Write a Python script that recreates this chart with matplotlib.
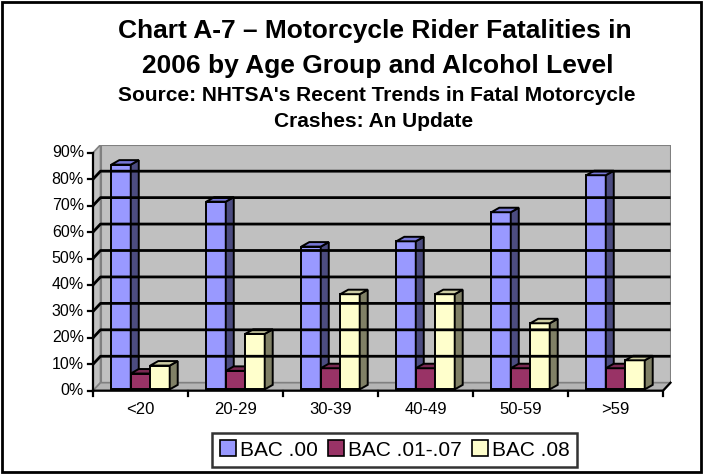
import numpy as np
import matplotlib
matplotlib.use("Agg")
import matplotlib.pyplot as plt
from matplotlib.patches import Polygon, Rectangle, Patch

plt.rcParams["font.family"] = ["Liberation Sans", "DejaVu Sans"]

# data
age_groups = ["<20", "20-29", "30-39", "40-49", "50-59", ">59"]
series_names = ["BAC .00", "BAC .01-.07", "BAC .08"]
bac_00 = [85, 71, 54, 56, 67, 81]
bac_01_07 = [6, 7, 8, 8, 8, 8]
bac_08 = [9, 21, 36, 36, 25, 11]
y_ticks = [0, 10, 20, 30, 40, 50, 60, 70, 80, 90]

# (front, side, top) shades for each series
shades = [
    ("#9999FF", "#4C4C80", "#7777D6"),
    ("#993366", "#4D1A33", "#7A2952"),
    ("#FFFFCC", "#808066", "#CCCCA3"),
]

W, H = 704, 475
fig = plt.figure(figsize=(W / 100, H / 100), dpi=100)

# pixel layout of the 3d box
px_left, px_zero = 93, 390.7
ppu_x = 95.0       # pixels per category
ppu_y = 2.644      # pixels per percent
wall_dx = 7.5 / ppu_x
wall_dy = 8.0 / ppu_y
bar_dx = 8.0 / ppu_x
bar_dy = 4.5 / ppu_y
bar_base = 0.5
bar_w = 0.205

n = len(age_groups)
xlim = (-0.5, n - 0.5 + wall_dx)
ylim = (0, 90 + wall_dy)
ax = fig.add_axes([px_left / W, (H - px_zero) / H,
                   (xlim[1] - xlim[0]) * ppu_x / W, (ylim[1] - ylim[0]) * ppu_y / H])
ax.set_xlim(*xlim)
ax.set_ylim(*ylim)
ax.axis("off")

x0, x1 = -0.5, n - 0.5
wall_col, wall_edge = "#C0C0C0", "#808080"

# walls and floor
ax.add_patch(Rectangle((x0 + wall_dx, wall_dy), x1 - x0, 90, fc=wall_col, ec=wall_edge, lw=1.5))
ax.add_patch(Polygon([(x0, 0), (x0 + wall_dx, wall_dy), (x0 + wall_dx, 90 + wall_dy), (x0, 90)],
                     closed=True, fc=wall_col, ec=wall_edge, lw=1.2))
ax.add_patch(Polygon([(x0, 0), (x1, 0), (x1 + wall_dx, wall_dy), (x0 + wall_dx, wall_dy)],
                     closed=True, fc="#B4B4B4", ec=wall_edge, lw=1.2))

# gridlines on left and back walls
for v in y_ticks[1:-1]:
    ax.plot([x0, x0 + wall_dx, x1 + wall_dx], [v, v + wall_dy, v + wall_dy],
            color="black", lw=2, solid_capstyle="butt")

# bars, drawn left to right so later faces sit in front
xs = np.arange(n)
for j, vals in enumerate([bac_00, bac_01_07, bac_08]):
    front, side, top = shades[j]
    for i, v in enumerate(vals):
        l = xs[i] - 1.5 * bar_w + j * bar_w
        r = l + bar_w
        b, t = bar_base, bar_base + v
        ax.add_patch(Polygon([(l, b), (r, b), (r, t), (l, t)], closed=True,
                             fc=front, ec="black", lw=1.4, joinstyle="miter"))
        ax.add_patch(Polygon([(r, b), (r + bar_dx, b + bar_dy), (r + bar_dx, t + bar_dy), (r, t)],
                             closed=True, fc=side, ec="black", lw=1.4, joinstyle="miter"))
        ax.add_patch(Polygon([(l, t), (r, t), (r + bar_dx, t + bar_dy), (l + bar_dx, t + bar_dy)],
                             closed=True, fc=top, ec="black", lw=1.4, joinstyle="miter"))

# axis lines and ticks
tick_x = 5.5 / ppu_x
tick_y = 5.5 / ppu_y
ax.plot([x0, x0], [0, 90], color="black", lw=1.6, clip_on=False)
ax.plot([x0, x1, x1 + wall_dx], [0, 0, wall_dy], color="black", lw=1.6, clip_on=False)
for v in y_ticks:
    ax.plot([x0 - tick_x, x0], [v, v], color="black", lw=1.6, clip_on=False)
    ax.text(x0 - 9 / ppu_x, v, f"{v}%", ha="right", va="center", fontsize=11.5, clip_on=False)
for k in range(n + 1):
    ax.plot([x0 + k, x0 + k], [0, -tick_y], color="black", lw=1.6, clip_on=False)
for i, lab in enumerate(age_groups):
    ax.text(xs[i], -18.5 / ppu_y, lab, ha="center", va="center", fontsize=12, clip_on=False)

# titles
fig.text(375 / W, 1 - 38.3 / H, "Chart A-7 \u2013 Motorcycle Rider Fatalities in",
         ha="center", va="baseline", fontsize=19, fontweight="bold")
fig.text(378 / W, 1 - 72.7 / H, "2006 by Age Group and Alcohol Level",
         ha="center", va="baseline", fontsize=19, fontweight="bold")
fig.text(377 / W, 1 - 100.7 / H, "Source: NHTSA's Recent Trends in Fatal Motorcycle",
         ha="center", va="baseline", fontsize=15, fontweight="bold")
fig.text(374 / W, 1 - 126.7 / H, "Crashes: An Update",
         ha="center", va="baseline", fontsize=15, fontweight="bold")

# legend
handles = [Patch(fc=shades[j][0], ec="black", lw=1.2) for j in range(3)]
leg = fig.legend(handles, series_names, loc="center", bbox_to_anchor=(394.5 / W, 1 - 450 / H),
                 ncol=3, fontsize=15, frameon=True, fancybox=False, handlelength=0.8,
                 handleheight=0.8, handletextpad=0.15, columnspacing=0.5, borderpad=0.35)
leg.get_frame().set_edgecolor("black")
leg.get_frame().set_linewidth(1.8)

# outer border
fig.add_artist(Rectangle((2 / W, 3 / H), 699 / W, 470 / H, transform=fig.transFigure,
                         fill=False, ec="black", lw=2))

fig.savefig("out.png", dpi=100)
